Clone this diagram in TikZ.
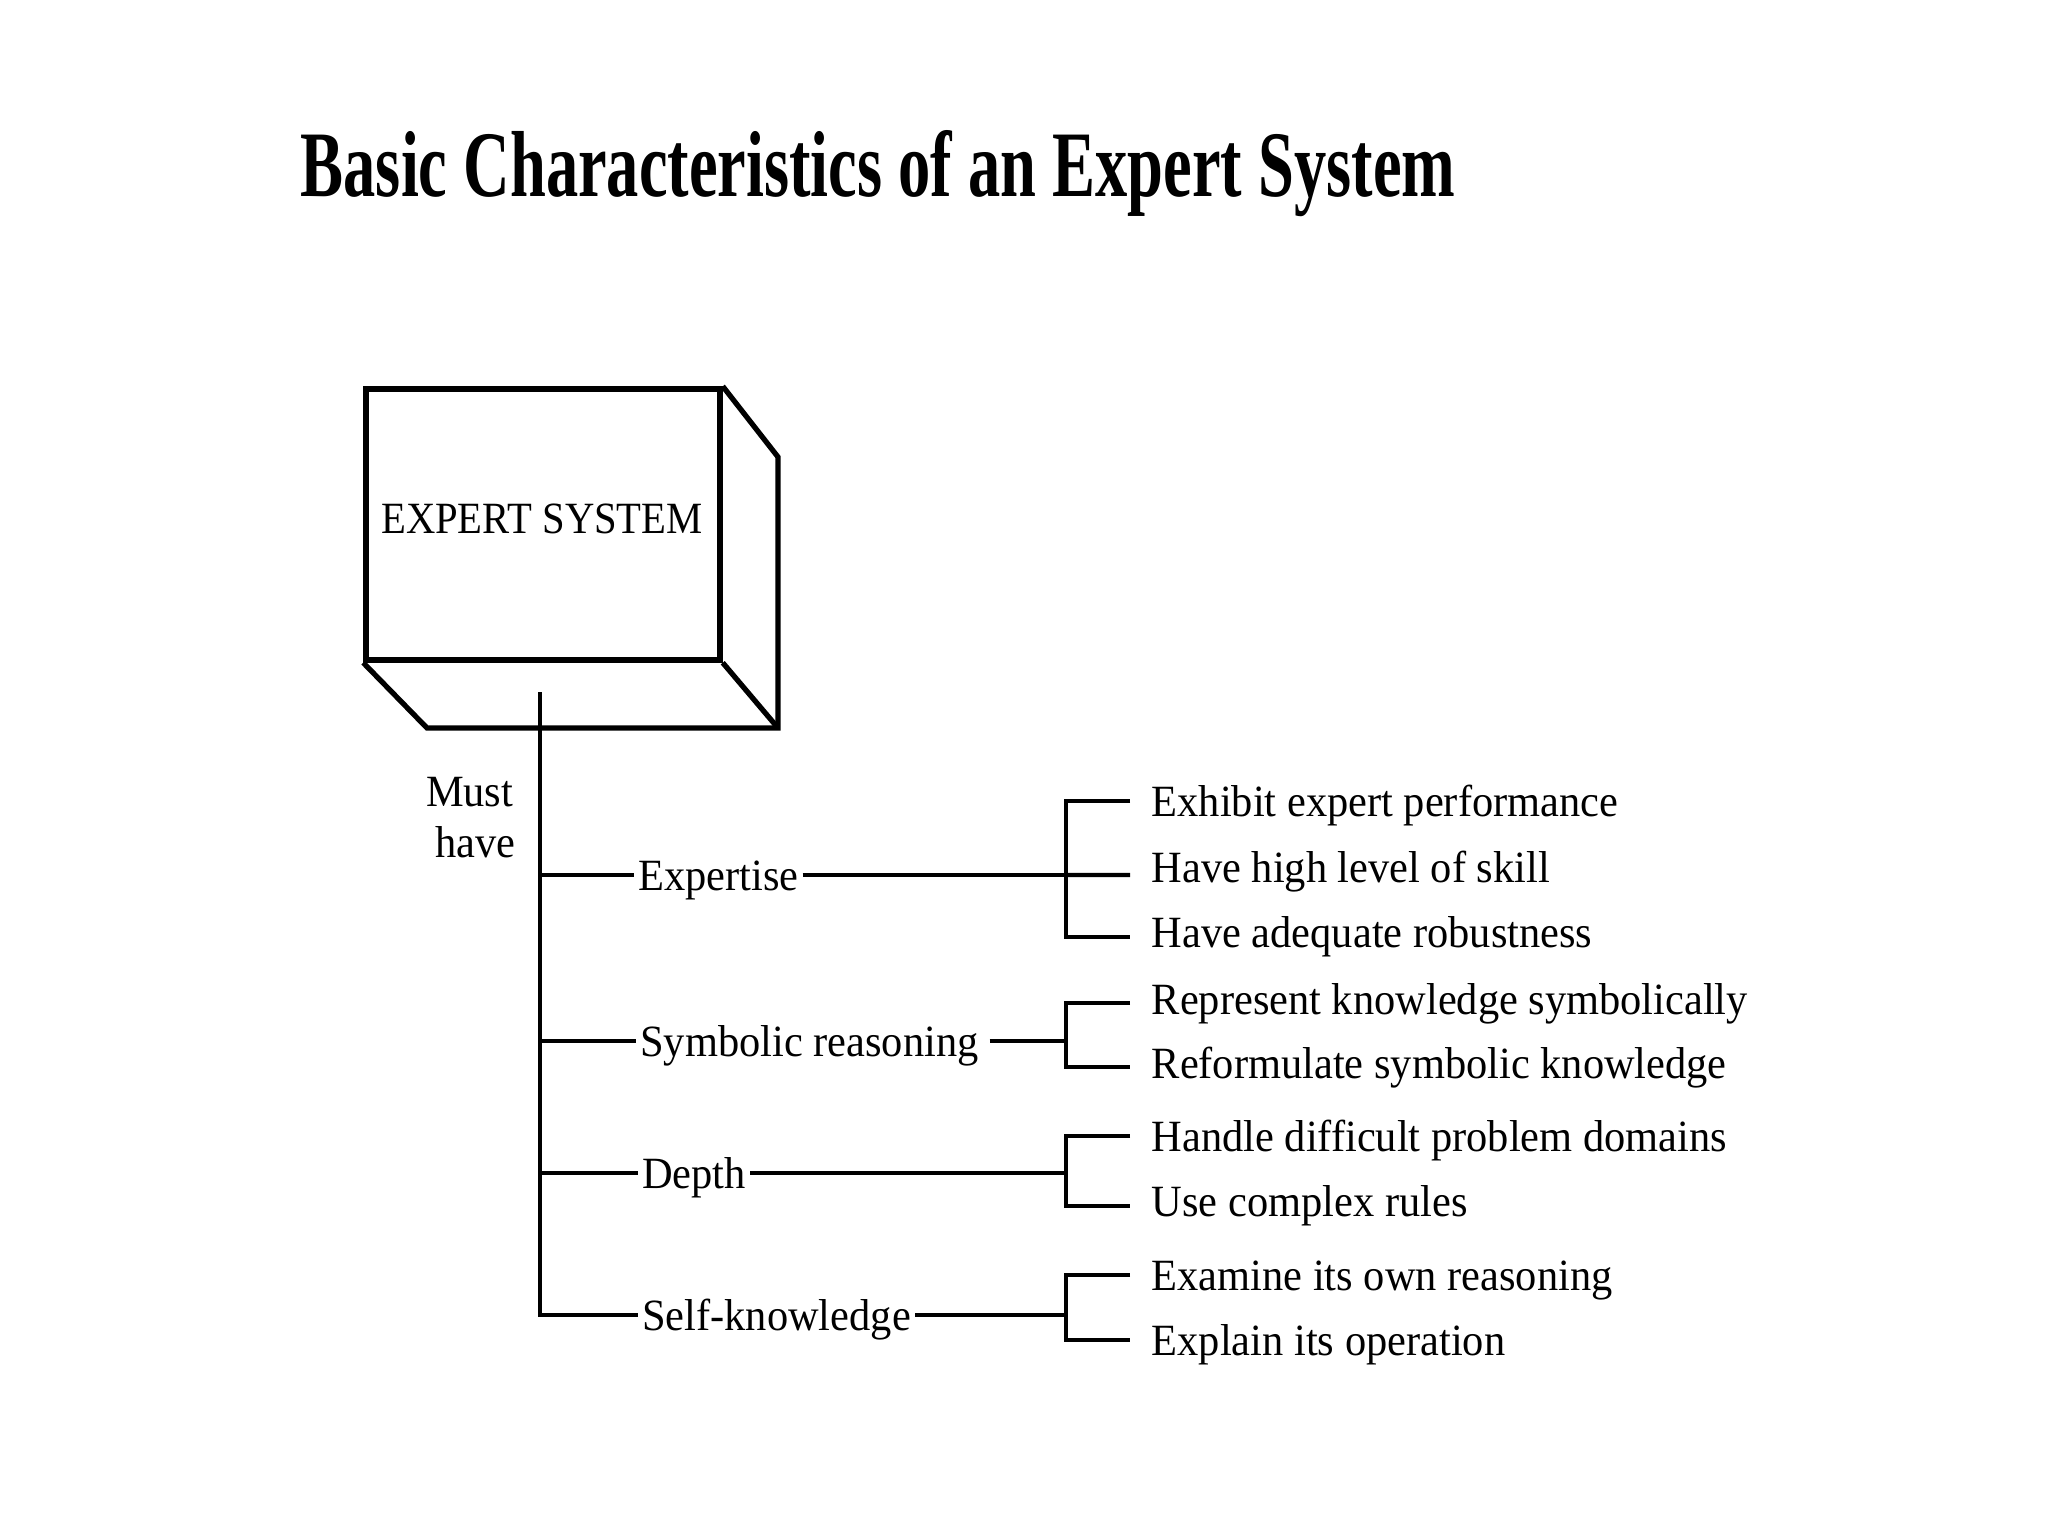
\documentclass[tikz,border=0pt]{standalone}
\usepackage{fontspec}
\setmainfont{Liberation Serif}
\usepackage{graphicx}
\newcommand{\nx}[1]{\scalebox{0.95}[1]{#1}}
\begin{document}
\begin{tikzpicture}[x=0.01cm,y=-0.01cm,
  txt/.style={font=\fontsize{12.7}{15}\selectfont, inner sep=0pt, text height=0.30cm, text depth=0pt},
  item/.style={txt, anchor=west},
  lab/.style={txt, anchor=west, inner xsep=1pt},
  tk/.style={xshift=-0.21cm, yshift=#1},
  tk/.default=0cm,
  ln/.style={line width=1.25pt},
  boxln/.style={line width=1.5pt, line join=miter}]
\useasboundingbox (0,0) rectangle (2048,1536);

% title
\node[anchor=base west, inner sep=0pt] (title) at (300,196)
  {\resizebox{11.54cm}{0.66cm}{\bfseries Basic Characteristics of an Expert System}};

% 3D box
\node[draw, boxln, minimum width=3.54cm, minimum height=2.71cm, inner sep=0pt] (esbox) at (543,524.5) {};
\node[txt] (estext) at (542,518) {\scalebox{0.91}[1]{EXPERT SYSTEM}};
\coordinate (bbl) at (427,728);
\coordinate (bbr) at (778,728);
\coordinate (btr) at (778,457);
\draw[boxln] (esbox.south west) -- (bbl) -- (bbr) -- (btr) -- (esbox.north east);
\draw[boxln] (esbox.south east) -- (bbr);

% trunk
\coordinate (trunktop) at (540,692);
\coordinate (bx) at (1066,0);
\node[txt, anchor=base east] (must) at (514,806) {\nx{Must}};
\node[txt, anchor=base east] (have) at (516,857) {\nx{have}};

% labels
\node[lab] (exp) at (634,875) {\nx{Expertise}};
\node[lab] (sym) at (636,1041) {\nx{Symbolic reasoning}};
\node[lab] (dep) at (638,1173) {\nx{Depth}};
\node[lab] (slf) at (638,1315) {\nx{Self-knowledge}};

\draw[ln] (trunktop) |- (slf.west);
\draw[ln] (exp.west -| trunktop) -- (exp.west);
\draw[ln] (sym.west -| trunktop) -- (sym.west);
\draw[ln] (dep.west -| trunktop) -- (dep.west);

% items
\node[item] (e1) at (1151,801) {\nx{Exhibit expert performance}};
\node[item] (e2) at (1151,867) {\nx{Have high level of skill}};
\node[item] (e3) at (1151,932) {\nx{Have adequate robustness}};
\node[item] (r1) at (1151,999) {\nx{Represent knowledge symbolically}};
\node[item] (r2) at (1151,1063) {\nx{Reformulate symbolic knowledge}};
\node[item] (h1) at (1151,1136) {\nx{Handle difficult problem domains}};
\node[item] (h2) at (1151,1201) {\nx{Use complex rules}};
\node[item] (x1) at (1151,1275) {\nx{Examine its own reasoning}};
\node[item] (x2) at (1151,1340) {\nx{Explain its operation}};

% feed lines
\draw[ln] (exp.east) -- (exp.east -| bx);
\draw[ln] ([xshift=0.07cm]sym.east) -- (sym.east -| bx);
\draw[ln] (dep.east) -- (dep.east -| bx);
\draw[ln] (slf.east) -- (slf.east -| bx);

% brackets
\draw[ln] ([tk]e1.west) -| (exp.east -| bx) |- ([tk=-0.05cm]e3.west);
\draw[ln] ([tk=-0.08cm]e2.west) -- (exp.east -| bx);
\draw[ln] ([tk=-0.04cm]r1.west) -| (sym.east -| bx) |- ([tk=-0.04cm]r2.west);
\draw[ln] ([tk]h1.west) -| (dep.east -| bx) |- ([tk=-0.05cm]h2.west);
\draw[ln] ([tk]x1.west) -| (slf.east -| bx) |- ([tk]x2.west);
\end{tikzpicture}
\end{document}
